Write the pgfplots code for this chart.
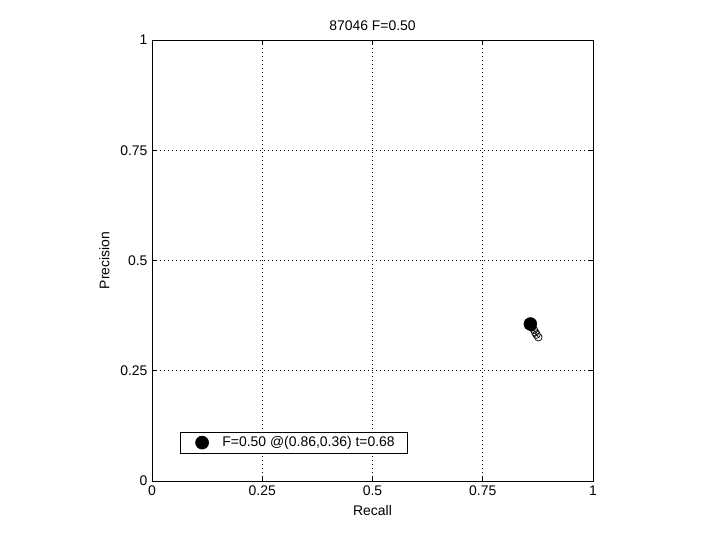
\documentclass[border=0pt]{standalone}
\usepackage{fontspec}
\setmainfont{Liberation Sans}
\usepackage{pgfplots}
\pgfplotsset{compat=1.18}
\begin{document}
\begin{tikzpicture}[x=1bp,y=1bp]
\path[use as bounding box] (0,0) rectangle (720,540);
\begin{axis}[
  at={(152bp,59bp)}, anchor=south west,
  scale only axis, width=441bp, height=441bp,
  xmin=0, xmax=1, ymin=0, ymax=1,
  xtick={0,0.25,0.5,0.75,1}, ytick={0,0.25,0.5,0.75,1},
  xticklabels={0,0.25,0.5,0.75,1}, yticklabels={0,0.25,0.5,0.75,1},
  tick align=inside, tick pos=both,
  major tick length=5bp,
  grid=major, grid style={black, line width=0.6pt, dash pattern=on 1bp off 3bp},
  axis line style={black, line width=0.6pt},
  tick style={black, line width=0.6pt},
  ticklabel style={font=\fontsize{14}{16}\selectfont},
  xticklabel style={yshift=-1bp},
  yticklabel style={xshift=-1bp},
  /pgf/number format/assume math mode=true,
  title={87046 F=0.50}, title style={font=\fontsize{14}{16}\selectfont, yshift=0bp},
  xlabel={Recall}, ylabel={Precision},
  label style={font=\fontsize{14}{16}\selectfont},
  xlabel style={yshift=-3bp}, ylabel style={yshift=4bp},
  legend style={at={(rel axis cs:0.0635,0.063)}, anchor=south west,
    draw=black, line width=0.6pt, font=\fontsize{14}{16}\selectfont,
    inner xsep=0bp, inner ysep=2bp, legend cell align=left,
    nodes={inner sep=2.5bp}},
  legend image code/.code={\path (0,0) (39bp,0); \draw[#1] plot coordinates {(21.5bp,0cm)};},
]
\addplot[black, line width=0.7pt, mark=o, mark size=3.8bp, mark options={line width=0.7pt}, forget plot]
  coordinates {(0.857,0.356) (0.862,0.349) (0.866,0.343) (0.869,0.337) (0.872,0.332) (0.876,0.326)};
\addplot[only marks, mark=*, mark size=6.5bp, black] coordinates {(0.858,0.356)};
\addlegendentry{F=0.50 @(0.86,0.36) t=0.68\hspace*{10bp}}
\end{axis}
\end{tikzpicture}
\end{document}
